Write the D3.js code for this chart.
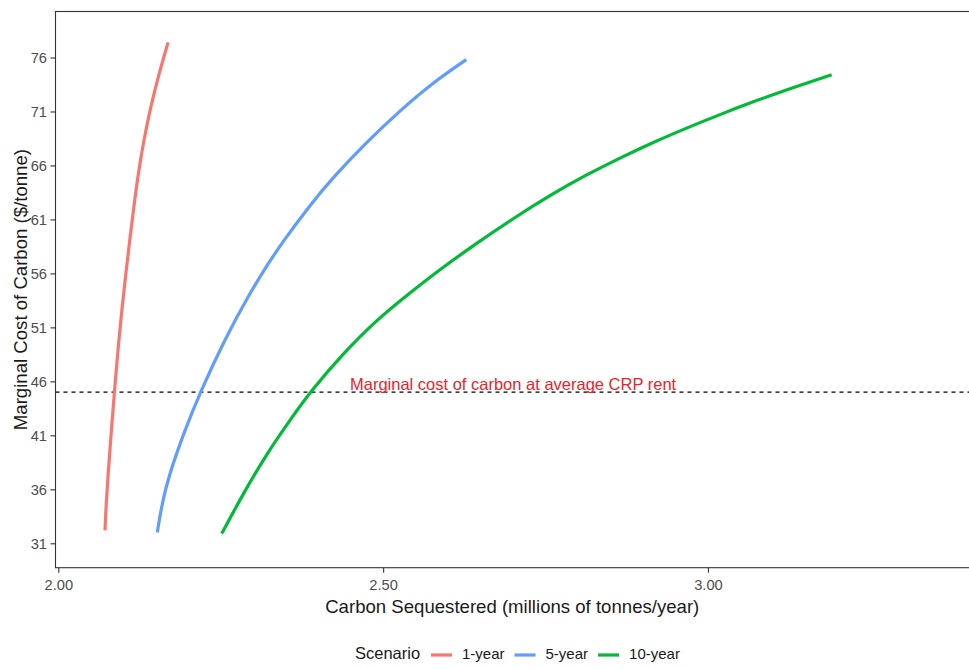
<!DOCTYPE html>
<html>
<head>
<meta charset="utf-8">
<script src="https://cdn.jsdelivr.net/npm/d3@7/dist/d3.min.js"></script>
<style>
  html, body { margin: 0; padding: 0; background: #fff; }
  svg { display: block; font-family: "Liberation Sans", Arial, sans-serif; }
</style>
</head>
<body>
<svg id="chart" width="969" height="669"></svg>
<script>
// ---- Data ----
const scenarios = ["1-year", "5-year", "10-year"];
const seriesColors = ["#F8766D", "#619CFF", "#00BA38"];

const oneYearX = [2.0719, 2.0734, 2.0768, 2.0806, 2.0863, 2.0931, 2.0983, 2.1040, 2.1100, 2.1163, 2.1232, 2.1318, 2.1421, 2.1549, 2.1690];
const oneYearY = [32.2, 34.4, 37.5, 40.6, 45.0, 49.8, 52.9, 56.0, 59.1, 62.2, 65.3, 68.4, 71.4, 74.5, 77.4];

const fiveYearX = [2.1524, 2.1630, 2.1915, 2.2185, 2.2566, 2.2951, 2.3208, 2.3463, 2.3874, 2.4233, 2.4747, 2.5259, 2.5772, 2.6280];
const fiveYearY = [32.0, 36.0, 41.0, 45.0, 49.95, 54.19, 56.71, 59.0, 62.33, 64.92, 68.16, 71.08, 73.7, 75.8];

const tenYearX = [2.2515, 2.2847, 2.3208, 2.3566, 2.3874, 2.4387, 2.4901, 2.5413, 2.5926, 2.6440, 2.6952, 2.7619, 2.8133, 2.8646, 2.9158, 2.9672, 3.0185, 3.0697, 3.1211, 3.1904];
const tenYearY = [31.9, 35.6, 39.3, 42.4, 45.0, 48.6, 51.7, 54.2, 56.6, 58.8, 60.9, 63.42, 65.15, 66.7, 68.15, 69.47, 70.72, 71.9, 73.02, 74.4];

const yTicks = [31, 36, 41, 46, 51, 56, 61, 66, 71, 76];
const xTicks = [2.0, 2.5, 3.0];
const crpRentCost = 45;
const annotationText = "Marginal cost of carbon at average CRP rent";
const annotationX = 2.7, annotationY = 45.6;
const xTitle = "Carbon Sequestered (millions of tonnes/year)";
const yTitle = "Marginal Cost of Carbon ($/tonne)";
const legendTitle = "Scenario";

// ---- Build series ----
const series = [
  { name: scenarios[0], color: seriesColors[0], pts: oneYearX.map((x, i) => ({ x, y: oneYearY[i] })) },
  { name: scenarios[1], color: seriesColors[1], pts: fiveYearX.map((x, i) => ({ x, y: fiveYearY[i] })) },
  { name: scenarios[2], color: seriesColors[2], pts: tenYearX.map((x, i) => ({ x, y: tenYearY[i] })) }
];

// ---- Layout ----
const panel = { left: 55.5, top: 11.5, right: 970, bottom: 567.7 };
const svg = d3.select("#chart");

const x = d3.scaleLinear().domain([1.9957, 3.4033]).range([panel.left, panel.right]);
const y = d3.scaleLinear().domain([28.74, 80.26]).range([panel.bottom, panel.top]);

svg.append("defs").append("clipPath").attr("id", "clip")
  .append("rect").attr("x", panel.left).attr("y", panel.top)
  .attr("width", panel.right - panel.left).attr("height", panel.bottom - panel.top);

// Dashed reference line
svg.append("line")
  .attr("x1", panel.left).attr("x2", panel.right)
  .attr("y1", y(crpRentCost)).attr("y2", y(crpRentCost))
  .attr("stroke", "#000").attr("stroke-width", 1.1)
  .attr("stroke-dasharray", "4,4");

// Lines
const lineGen = d3.line().x(d => x(d.x)).y(d => y(d.y)).curve(d3.curveBasis);
svg.append("g").attr("clip-path", "url(#clip)")
  .selectAll("path").data(series).join("path")
  .attr("d", d => lineGen(d.pts))
  .attr("fill", "none")
  .attr("stroke", d => d.color)
  .attr("stroke-width", 3.2)
  .attr("stroke-linecap", "butt");

// Annotation
svg.append("text")
  .attr("x", x(annotationX)).attr("y", y(annotationY))
  .attr("text-anchor", "middle").attr("dominant-baseline", "middle")
  .attr("fill", "#e8232b").attr("font-size", 16.5)
  .text(annotationText);

// Panel border
svg.append("rect")
  .attr("x", panel.left).attr("y", panel.top)
  .attr("width", panel.right - panel.left).attr("height", panel.bottom - panel.top)
  .attr("fill", "none").attr("stroke", "#333").attr("stroke-width", 1.1);

// Axes
const yAxis = d3.axisLeft(y).tickValues(yTicks).tickSize(5).tickPadding(3.5).tickFormat(d3.format("d"));
const gy = svg.append("g").attr("transform", `translate(${panel.left},0)`).call(yAxis);
gy.select(".domain").remove();
gy.selectAll(".tick line").attr("stroke", "#333").attr("stroke-width", 1.1);
gy.selectAll(".tick text").attr("fill", "#4d4d4d").attr("font-size", 14.7)
  .attr("font-family", "Liberation Sans, Arial, sans-serif");

const xAxis = d3.axisBottom(x).tickValues(xTicks).tickSize(5).tickPadding(6.5).tickFormat(d3.format(".2f"));
const gx = svg.append("g").attr("transform", `translate(0,${panel.bottom})`).call(xAxis);
gx.select(".domain").remove();
gx.selectAll(".tick line").attr("stroke", "#333").attr("stroke-width", 1.1);
gx.selectAll(".tick text").attr("fill", "#4d4d4d").attr("font-size", 14.7)
  .attr("font-family", "Liberation Sans, Arial, sans-serif");

// Axis titles
const plotCx = (55.5 + 969) / 2;
svg.append("text")
  .attr("x", plotCx).attr("y", 613)
  .attr("text-anchor", "middle").attr("fill", "#1a1a1a").attr("font-size", 18.6)
  .text(xTitle);
svg.append("text")
  .attr("transform", `translate(27,${(panel.top + panel.bottom) / 2}) rotate(-90)`)
  .attr("text-anchor", "middle").attr("fill", "#1a1a1a").attr("font-size", 18.6)
  .text(yTitle);

// Legend
const legend = svg.append("g").attr("transform", "translate(0,655)");
legend.append("text").attr("x", 355).attr("y", 0)
  .attr("dominant-baseline", "middle").attr("fill", "#1a1a1a").attr("font-size", 16.5)
  .text(legendTitle);
let cx = 431;
series.forEach(s => {
  legend.append("line").attr("x1", cx).attr("x2", cx + 21).attr("y1", 0).attr("y2", 0)
    .attr("stroke", s.color).attr("stroke-width", 3.2);
  const t = legend.append("text").attr("x", cx + 31).attr("y", 0)
    .attr("dominant-baseline", "middle").attr("fill", "#1a1a1a").attr("font-size", 15)
    .text(s.name);
  cx = cx + 31 + t.node().getComputedTextLength() + 10;
});
</script>
</body>
</html>
